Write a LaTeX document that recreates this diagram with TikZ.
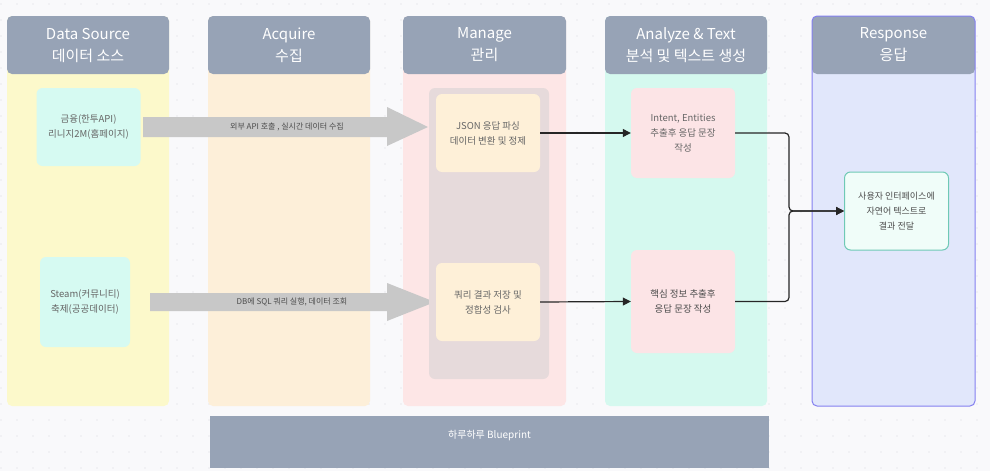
\documentclass[tikz,border=0pt]{standalone}
\usepackage{fontspec}
\setmainfont{Noto Sans CJK KR}
\usetikzlibrary{arrows.meta}

\definecolor{bgpage}{HTML}{F9F9FB}
\definecolor{bgdot}{HTML}{D9DAE0}
\definecolor{headgray}{HTML}{97A3B6}
\definecolor{colsrc}{HTML}{FCF9CB}
\definecolor{colacq}{HTML}{FDEFD9}
\definecolor{colmng}{HTML}{FDE6E6}
\definecolor{colana}{HTML}{D5F9EF}
\definecolor{colrsp}{HTML}{E1E7FB}
\definecolor{rspline}{HTML}{8480F0}
\definecolor{srcfill}{HTML}{D6FAF2}
\definecolor{mngbox}{HTML}{E6DADB}
\definecolor{mngfill}{HTML}{FEF0D8}
\definecolor{anafill}{HTML}{FCE4E6}
\definecolor{uifill}{HTML}{F0FDF9}
\definecolor{uiline}{HTML}{6EC9B5}
\definecolor{arrowgray}{HTML}{C8C8C8}
\definecolor{textgray}{HTML}{666666}

\begin{document}
\begin{tikzpicture}[x=1pt, y=-1pt,
	headbox/.style={fill=headgray, text=white, rounded corners=5pt, minimum height=58pt, inner sep=0pt, align=center, font=\fontsize{15}{22}\selectfont},
	card/.style={rounded corners=6pt, minimum width=104pt, minimum height=78pt, inner sep=2pt, align=center, text=textgray, font=\fontsize{9.5}{15}\selectfont},
	bigarrow/.style={fill=arrowgray},
	arrowtext/.style={text=black!70, inner sep=0pt, font=\fontsize{8}{9}\selectfont},
	conn/.style={draw=black!85, line width=1.2pt, rounded corners=4pt, -{Triangle[length=8pt,width=8pt]}}
]
	\useasboundingbox (0,0) rectangle (990,471);
	\fill[bgpage] (0,0) rectangle (990,471);
	\foreach \x in {1,17,...,990} {
		\foreach \y in {4,20,...,471} {
			\fill[bgdot] (\x,\y) circle (0.7pt);
		}
	}
	
	\foreach \name/\xa/\xb/\col/\title in {src/7/169/colsrc/{Data Source\\데이터 소스}, acq/208/370/colacq/{Acquire\\수집}, mng/403/566/colmng/{Manage\\관리}, ana/605/767/colana/{Analyze \& Text\\분석 및 텍스트 생성}, rsp/812/975/colrsp/{Response\\응답}} {
		\fill[\col, rounded corners=5pt] (\xa,16) rectangle (\xb,406);
		\pgfmathsetmacro{\w}{\xb-\xa}
		\node[headbox, minimum width=\w pt] (h\name) at ({(\xa+\xb)/2},45) {\title};
	}
	\draw[rspline, line width=1pt, rounded corners=5pt] (812,16) rectangle (975,406);
	
	\fill[headgray] (210,416) rectangle (769,468);
	\node[text=white, font=\fontsize{10}{12}\selectfont] (bp) at (489.5,436) {하루하루 Blueprint};
	
	% data sources
	\node[card, fill=srcfill] (s1) at (88.5,127) {금융(한투API)\\리니지2M(홈페이지)};
	\node[card, fill=srcfill, minimum width=90pt, minimum height=90pt] (s2) at (85,302) {Steam(커뮤니티)\\축제(공공데이터)};
	
	% acquire arrows
	\fill[bigarrow] (143,117) -- (387,117) -- (387,107) -- (428,127) -- (387,146) -- (387,137) -- (143,137) -- cycle;
	\node[arrowtext] (t1) at (287,127) {외부 API 호출 , 실시간 데이터 수집};
	\fill[bigarrow] (150,293) -- (387,293) -- (387,283) -- (435,302) -- (387,321) -- (387,311) -- (150,311) -- cycle;
	\node[arrowtext] (t2) at (292,302) {DB에 SQL 쿼리 실행, 데이터 조회};
	
	% manage
	\fill[mngbox, rounded corners=6pt] (429,88) rectangle (549,379);
	\node[card, fill=mngfill] (m1) at (488,133) {JSON 응답 파싱\\데이터 변환 및 정제};
	\node[card, fill=mngfill] (m2) at (488,302) {쿼리 결과 저장 및\\정합성 검사};
	
	% analyze
	\node[card, fill=anafill, minimum height=90pt] (a1) at (683,133) {Intent, Entities\\추출후 응답 문장\\작성};
	\node[card, fill=anafill, minimum height=103pt, text=black!70] (a2) at (683,301.5) {핵심 정보 추출후\\응답 문장 작성};
	
	% response
	\node[card, fill=uifill, draw=uiline, line width=1pt, text=black!70, font=\fontsize{9}{15}\selectfont] (r1) at (896.5,211) {사용자 인터페이스에\\자연어 텍스트로\\결과 전달};
	
	\draw[conn] (m1.east) -- (a1.west);
	\draw[conn] (m2.east) -- (a2.west);
	\coordinate (jn) at (789,211);
	\draw[conn] (a1.east) -| (jn) -- (r1.west);
	\draw[conn] (a2.east) -| (jn) -- (r1.west);
\end{tikzpicture}
\end{document}
